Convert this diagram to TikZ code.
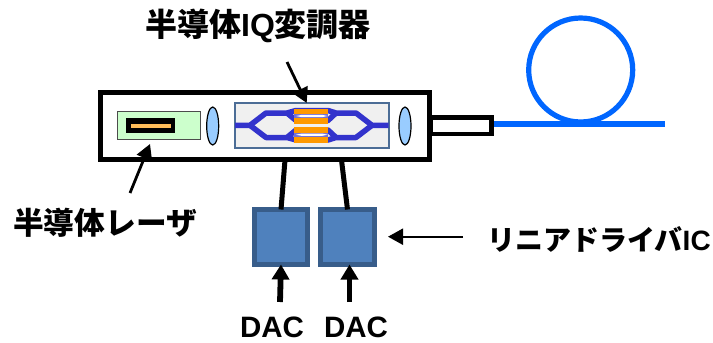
\documentclass[tikz,border=0pt]{standalone}
\usepackage{fontspec}
\setmainfont{Liberation Sans}
\newfontfamily\cjk{Noto Sans CJK JP}
\usetikzlibrary{arrows.meta,shapes.geometric}
\definecolor{wg}{HTML}{3333CC}
\definecolor{orng}{HTML}{FF9900}
\definecolor{fib}{HTML}{0066FF}
\definecolor{lensc}{HTML}{99CCFF}
\definecolor{drvf}{HTML}{4F81BD}
\definecolor{drvb}{HTML}{385D8A}
\tikzset{
 x=1pt,y=-1pt,
 lbl/.style={inner sep=0pt,anchor=center,font=\bfseries},
 lensn/.style={draw=black,line width=1.2pt,fill=lensc,ellipse,minimum width=12pt,minimum height=38pt,inner sep=0pt},
 drv/.style={draw=drvb,fill=drvf,line width=5.5pt},
 wire/.style={line width=5pt,black},
 upar/.style={line width=5.8pt,-{Triangle[length=15pt,width=17pt]}},
 ptr/.style={line width=2.2pt,-{Triangle[length=15pt,width=16pt]}},
 slant/.style={line width=2.8pt,-{Triangle[length=15pt,width=16pt]}},
 wgl/.style={wg,line width=5.5pt,line join=round},
}
\begin{document}
\begin{tikzpicture}
\useasboundingbox (0,0) rectangle (713,343);
% fibre
\draw[fib,line width=5.2pt] (580.7,70) circle (52);
\coordinate (fs) at (493,124); \coordinate (fe) at (665,124);
\draw[fib,line width=5.5pt] (fs) -- (fe);
% connector stub
\draw[black,line width=4.5pt] (431,117.3) rectangle (491.5,133.8);
% housing
\node[draw=black,fill=white,line width=5pt,minimum width=329.5pt,minimum height=67pt,inner sep=0pt,outer sep=0pt] (housing) at (265.2,125.5) {};
% laser
\node[draw=black!70,fill=green!20!white,line width=1.4pt,minimum width=83pt,minimum height=28.5pt,inner sep=0pt] (laser) at (159,125.5) {};
\node[fill=black,minimum width=49pt,minimum height=15pt,inner sep=0pt] (chip) at (150.5,125.5) {};
\node[fill=orng!65!white,minimum width=40pt,minimum height=4pt,inner sep=0pt] (stripe) at (151,125.5) {};
% lenses
\node[lensn] (lensa) at (212.7,126) {};
\node[lensn] (lensb) at (405,126) {};
% modulator
\node[draw=drvb!90!white,fill=black!6,line width=1.6pt,minimum width=154pt,minimum height=45pt,inner sep=0pt] (mod) at (311.8,125.5) {};
\draw[wgl] (235,125.3) -- (250,125.3) -- (266,113) -- (287,113) -- (296,110.5) -- (328,110.5) -- (336,113) -- (356,113) -- (372,125.3) -- (388.5,125.3);
\draw[wgl] (250,125.3) -- (266,137.5) -- (287,137.5) -- (296,140) -- (328,140) -- (336,137.5) -- (356,137.5) -- (372,125.3);
\draw[wgl] (287,113) -- (296,120.5) -- (328,120.5) -- (336,113);
\draw[wgl] (287,137.5) -- (296,130) -- (328,130) -- (336,137.5);
\foreach \ya/\yb in {108.5/114,118/123.7,127/132.7,136.7/142.5}
  \fill[orng] (294,\ya) rectangle (327.5,\yb);
\fill[wg!70!white] (294,114) rectangle (327.5,118);
\fill[wg!70!white] (294,132.7) rectangle (327.5,136.7);
\fill[white] (296,116) -- (302,114.8) -- (322,114.8) -- (327.5,116) -- (322,117.2) -- (302,117.2) -- cycle;
\fill[white] (296,134.7) -- (302,133.5) -- (322,133.5) -- (327.5,134.7) -- (322,135.9) -- (302,135.9) -- cycle;
% drivers
\node[drv,minimum width=53pt,minimum height=55pt,inner sep=0pt,outer sep=0pt] (da) at (281,237) {};
\node[drv,minimum width=54pt,minimum height=55pt,inner sep=0pt,outer sep=0pt] (db) at (347.5,237) {};
\coordinate (wa) at (285,160); \coordinate (wb) at (341.5,160);
\draw[wire] (wa) -- (da.north);
\draw[wire] (wb) -- (db.north);
% labels
\node[lbl,font=\bfseries\fontsize{32}{32}\selectfont] (tmod) at (258,26) {{\cjk\bfseries 半導体}IQ{\cjk\bfseries 変調器}};
\node[lbl,font=\bfseries\fontsize{30.7}{31}\selectfont] (tlas) at (105,223) {\cjk\bfseries 半導体レーザ};
\node[lbl,font=\bfseries\fontsize{28}{28}\selectfont] (tdrv) at (599,239) {{\cjk\bfseries リニアドライバ}IC};
\node[lbl,font=\bfseries\fontsize{29.5}{30}\selectfont] (ta) at (272,327.5) {DAC};
\node[lbl,font=\bfseries\fontsize{29.5}{30}\selectfont] (tb) at (356,327.5) {DAC};
% arrows
\coordinate (pa) at (287,62); \coordinate (pah) at (306.7,103);
\draw[slant] (pa) -- (pah);
\coordinate (pb) at (130,193); \coordinate (pbh) at (150,144);
\draw[slant] (pb) -- (pbh);
\coordinate (ca) at (280,302); \coordinate (cb) at (349.5,302);
\draw[upar] (ca) -- (da.south);
\draw[upar] (cb) -- (cb |- db.south);
\coordinate (pc) at (463,236.7);
\draw[ptr] (pc) -- (388,236.7);
\end{tikzpicture}
\end{document}
